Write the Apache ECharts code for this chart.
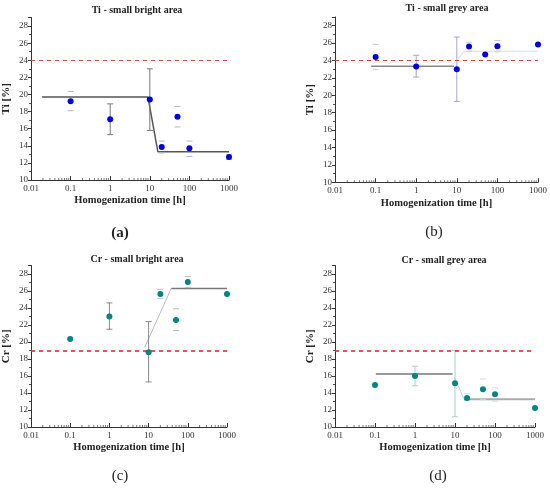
<!DOCTYPE html>
<html>
<head>
<meta charset="utf-8">
<script src="https://cdn.jsdelivr.net/npm/echarts@6/dist/echarts.min.js"></script>
<style>
  html, body { margin: 0; padding: 0; background: #fff; }
  #main { width: 550px; height: 488px; }
</style>
</head>
<body>
<div id="main"></div>
<script>
// homogenization times [h]
var times = [0.1, 1, 10, 20, 50, 100, 1000];

// Ti - small bright area
var tiBright = [19.2, 17.1, 19.4, 13.85, 17.4, 13.7, 12.7];
var tiBrightErr = [[1, 15.3, 18.9], [10, 15.8, 23.0]];
var tiBrightErrFaint = [[0.1, 18.1, 20.35], [20, 13.15, 14.55], [50, 16.2, 18.6], [100, 12.75, 14.55], [1000, 12.4, 13.0]];
var tiBrightFit = [[0.019, 19.7], [9, 19.7], [16, 13.3], [1000, 13.3]];
var tiRef = 24;

// Ti - small grey area
var tiGrey = [24.4, 23.3, 23.0, 25.6, 24.7, 25.65, 25.85];
var tiGreyErr = [[1, 22.1, 24.6], [10, 19.3, 26.7]];
var tiGreyErrFaint = [[0.1, 22.95, 25.85], [20, 25.05, 26.1], [100, 25.0, 26.3]];
var tiGreyFit = [[0.078, 23.33], [8.5, 23.33]];
var tiGreyFit2 = [[10.2, 24.0], [15, 25.06], [1000, 25.06]];

// Cr - small bright area
var crBright = [20.35, 23.0, 18.8, 25.65, 22.6, 27.05, 25.65];
var crBrightErr = [[1, 21.5, 24.6], [10, 15.3, 22.4]];
var crBrightErrFaint = [[20, 25.15, 26.2], [50, 21.35, 23.9], [100, 26.4, 27.7]];
var crBrightFit = [[8, 19.4], [38, 26.33]];
var crBrightFit2 = [[38, 26.3], [1000, 26.3]];
var crRef = 19;

// Cr - small grey area
var crGrey = [14.95, 16.0, 15.15, 13.4, 14.45, 13.85, 12.25];
var crGreyErr = [[1, 14.85, 17.15], [10, 11.2, 19.0]];
var crGreyErrFaint = [[20, 13.1, 13.9], [50, 13.2, 15.65], [100, 13.05, 14.6]];
var crGreyFit = [[0.105, 16.25], [8.7, 16.25]];
var crGreyFit2 = [[9.6, 15.9], [16.8, 13.26]];
var crGreyFit3 = [[16.8, 13.26], [1000, 13.26]];

var xTicks = ['0.01', '0.1', '1', '10', '100', '1000'];

// log minor tick positions (2..9 in each decade)
var minorX = [];
for (var d = 0.01; d < 999; d *= 10) {
    for (var m = 2; m <= 9; m++) minorX.push([+(d * m).toPrecision(2)]);
}

var serif = '"Liberation Serif", "DejaVu Serif", serif';
var blue = '#0000e6';
var teal = '#008580';

function pts(vals) {
    var out = [];
    for (var i = 0; i < times.length; i++) out.push([times[i], vals[i]]);
    return out;
}

function errRender(color, showLine) {
    return function (params, api) {
        var x = api.value(0);
        var lo = api.coord([x, api.value(1)]);
        var hi = api.coord([x, api.value(2)]);
        var w = 3;
        var st = { stroke: color, lineWidth: 1 };
        var ch = [
            { type: 'line', shape: { x1: lo[0] - w, y1: lo[1], x2: lo[0] + w, y2: lo[1] }, style: st },
            { type: 'line', shape: { x1: hi[0] - w, y1: hi[1], x2: hi[0] + w, y2: hi[1] }, style: st }
        ];
        if (showLine) {
            ch.push({ type: 'line', shape: { x1: lo[0], y1: lo[1], x2: hi[0], y2: hi[1] }, style: st });
        }
        return { type: 'group', children: ch };
    };
}

function minorRender(params, api) {
    var p = api.coord([api.value(0), 10]);
    return {
        type: 'line', shape: { x1: p[0], y1: p[1], x2: p[0], y2: p[1] - 2 },
        style: { stroke: '#555', lineWidth: 0.8 }
    };
}

var grids = [
    { left: 29, top: 17.5, width: 200, height: 162.5 },
    { left: 335, top: 17, width: 205, height: 165.3 },
    { left: 28, top: 265.5, width: 199, height: 161.5 },
    { left: 335, top: 265.5, width: 200, height: 161.5 }
];

var xAxes = [], yAxes = [];
var yNames = ['Ti [%]', 'Ti [%]', 'Cr [%]', 'Cr [%]'];
for (var g = 0; g < 4; g++) {
    xAxes.push({
        type: 'log', logBase: 10, gridIndex: g, min: 0.01, max: 1000,
        name: 'Homogenization time [h]', nameLocation: 'middle', nameGap: 15,
        nameTextStyle: { fontFamily: serif, fontWeight: 'bold', fontSize: 10.5, color: '#222' },
        axisLine: { lineStyle: { color: '#333', width: 1 } },
        axisTick: { inside: true, length: 4, lineStyle: { color: '#333' } },
        minorTick: { show: false },
        splitLine: { show: false },
        axisLabel: {
            fontFamily: serif, fontSize: 9, color: '#333', margin: 4,
            formatter: function (v) {
                var s = String(parseFloat(Number(v).toPrecision(2)));
                return xTicks.indexOf(s) >= 0 ? s : '';
            }
        }
    });
    yAxes.push({
        type: 'value', gridIndex: g, min: 10, max: 29, interval: 2,
        name: yNames[g], nameLocation: 'middle', nameGap: 19,
        nameTextStyle: { fontFamily: serif, fontWeight: 'bold', fontSize: 11, color: '#222' },
        axisLine: { show: true, lineStyle: { color: '#333', width: 1 } },
        axisTick: { show: true, length: 3, lineStyle: { color: '#333' } },
        minorTick: { show: true, splitNumber: 2, length: 2, lineStyle: { color: '#555' } },
        splitLine: { show: false },
        axisLabel: { fontFamily: serif, fontSize: 9, color: '#333', margin: 3, showMaxLabel: false }
    });
}

function refLine(v, color, w) {
    return {
        silent: true, symbol: 'none', label: { show: false },
        lineStyle: { color: color, type: [4, 4], width: w, opacity: 1 },
        data: [{ yAxis: v }]
    };
}

function scatter(g, vals, color, ref, refColor, refW) {
    return {
        type: 'scatter', xAxisIndex: g, yAxisIndex: g, data: pts(vals),
        symbolSize: 6, itemStyle: { color: color, opacity: 1 }, z: 5,
        markLine: refLine(ref, refColor, refW)
    };
}

function fit(g, data, color, w) {
    return {
        type: 'line', xAxisIndex: g, yAxisIndex: g, data: data, symbol: 'none',
        lineStyle: { color: color, width: w }, z: 3, silent: true
    };
}

function err(g, data, color, showLine) {
    return {
        type: 'custom', xAxisIndex: g, yAxisIndex: g, data: data,
        encode: { x: 0, y: [1, 2] }, renderItem: errRender(color, showLine), z: 4, silent: true
    };
}

function minors(g) {
    return {
        type: 'custom', xAxisIndex: g, yAxisIndex: g, data: minorX,
        encode: { x: 0 }, renderItem: minorRender, z: 2, silent: true, clip: false
    };
}

var series = [
    // (a)
    fit(0, tiBrightFit, '#555', 1.5),
    err(0, tiBrightErr, '#777', true),
    err(0, tiBrightErrFaint, '#bbb', false),
    scatter(0, tiBright, blue, tiRef, '#e04848', 1),
    // (b)
    fit(1, tiGreyFit, '#888', 1.5),
    fit(1, tiGreyFit2, '#ddd', 1),
    err(1, tiGreyErr, '#a6a6cc', true),
    err(1, tiGreyErrFaint, '#c8c8dd', false),
    scatter(1, tiGrey, blue, tiRef, '#dd4444', 1),
    // (c)
    fit(2, crBrightFit, '#bbb', 1),
    fit(2, crBrightFit2, '#777', 1.5),
    err(2, crBrightErr, '#888', true),
    err(2, crBrightErrFaint, '#bbb', false),
    scatter(2, crBright, teal, crRef, '#e52a2a', 1.6),
    // (d)
    fit(3, crGreyFit, '#777', 1.5),
    fit(3, crGreyFit2, '#b8d8d6', 1),
    fit(3, crGreyFit3, '#aaa', 2),
    err(3, crGreyErr, '#a4d0cd', true),
    err(3, crGreyErrFaint, '#c4e0de', false),
    scatter(3, crGrey, teal, crRef, '#e52a2a', 1.6),
    minors(0), minors(1), minors(2), minors(3)
];

function txt(x, y, s, size, bold) {
    return {
        type: 'text', x: x, y: y,
        style: {
            text: s, x: 0, y: 0, align: 'center', verticalAlign: 'middle',
            font: (bold ? 'bold ' : '') + size + 'px ' + serif, fill: '#222'
        }
    };
}

var chart = echarts.init(document.getElementById('main'), null, { renderer: 'canvas' });
chart.setOption({
    animation: false,
    backgroundColor: '#fff',
    grid: grids,
    xAxis: xAxes,
    yAxis: yAxes,
    series: series,
    graphic: [
        txt(137, 10, 'Ti - small bright area', 10, true),
        txt(447, 8, 'Ti - small grey area', 10, true),
        txt(137, 259, 'Cr - small bright area', 10, true),
        txt(444, 260, 'Cr - small grey area', 10, true),
        txt(120, 233, '(a)', 15, true),
        txt(434, 232, '(b)', 15, false),
        txt(120, 476, '(c)', 15, false),
        txt(438, 476, '(d)', 15, false)
    ]
});
</script>
</body>
</html>
